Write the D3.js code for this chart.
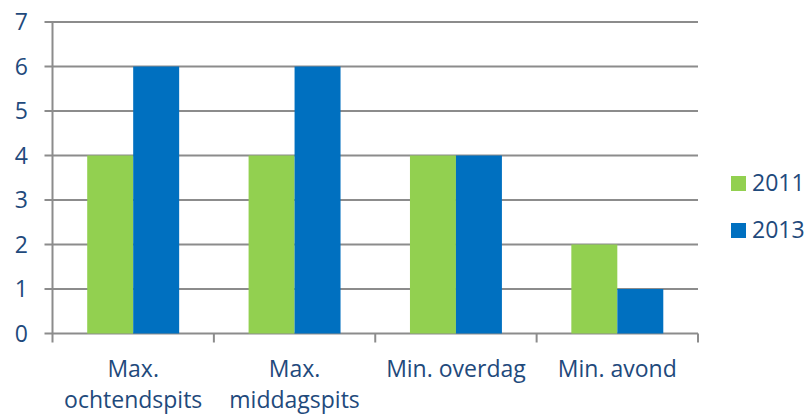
<!DOCTYPE html>
<html>
<head>
<meta charset="utf-8">
<script src="https://cdn.jsdelivr.net/npm/d3@7"></script>
<style>
  html, body { margin: 0; padding: 0; background: #fff; }
  svg text { font-family: "Open Sans", "DejaVu Sans", sans-serif; }
</style>
</head>
<body>
<svg id="chart" width="810" height="414"></svg>
<script>
// Category labels (split over lines), series and their values
const categories = [
  ["Max.", "ochtendspits"],
  ["Max.", "middagspits"],
  ["Min. overdag"],
  ["Min. avond"]
];
const seriesNames = ["2011", "2013"];
const values2011 = [4, 4, 4, 2];
const values2013 = [6, 6, 4, 1];
const yTicks = [0, 1, 2, 3, 4, 5, 6, 7];
const colors = ["#92D050", "#0070C0"];

const textColor = "#1F4A7C";
const gridColor = "#8C8C8C";
const fontSize = 23;

const svg = d3.select("#chart");
const plot = { left: 52.5, right: 698, top: 22, bottom: 333.5 };

const catKeys = categories.map((c, i) => i);
const x0 = d3.scaleBand().domain(catKeys).range([plot.left, plot.right]).padding(0);
const x1 = d3.scaleBand().domain(seriesNames).range([0, x0.bandwidth()])
  .paddingInner(0).paddingOuter(0.755);
const y = d3.scaleLinear().domain([0, 7]).range([plot.bottom, plot.top]);

// horizontal gridlines with left tick stubs
svg.append("g").selectAll("line").data(yTicks).join("line")
  .attr("x1", plot.left - 8).attr("x2", plot.right)
  .attr("y1", d => y(d)).attr("y2", d => y(d))
  .attr("stroke", gridColor).attr("stroke-width", 2);

// y-axis line
svg.append("line")
  .attr("x1", plot.left).attr("x2", plot.left)
  .attr("y1", plot.top).attr("y2", plot.bottom + 9)
  .attr("stroke", gridColor).attr("stroke-width", 2);

// category boundary ticks
const bounds = catKeys.map(i => x0(i) + x0.bandwidth());
svg.append("g").selectAll("line").data(bounds).join("line")
  .attr("x1", d => d).attr("x2", d => d)
  .attr("y1", plot.bottom).attr("y2", plot.bottom + 9)
  .attr("stroke", gridColor).attr("stroke-width", 2);

// y tick labels
svg.append("g").selectAll("text").data(yTicks).join("text")
  .attr("x", 28).attr("y", d => y(d) + 8)
  .attr("text-anchor", "end")
  .attr("font-size", fontSize).attr("fill", textColor)
  .text(d => d);

// bars
const seriesValues = [values2011, values2013];
seriesNames.forEach((name, si) => {
  svg.append("g").selectAll("rect").data(seriesValues[si]).join("rect")
    .attr("x", (d, i) => x0(i) + x1(name))
    .attr("y", d => y(d))
    .attr("width", x1.bandwidth())
    .attr("height", d => y(0) - y(d))
    .attr("fill", colors[si]);
});

// category labels
const catLabels = svg.append("g").selectAll("text").data(categories).join("text")
  .attr("text-anchor", "middle")
  .attr("font-size", fontSize).attr("fill", textColor)
  .attr("x", (d, i) => x0(i) + x0.bandwidth() / 2)
  .attr("y", 377);
catLabels.each(function (lines, i) {
  d3.select(this).selectAll("tspan").data(lines).join("tspan")
    .attr("x", x0(i) + x0.bandwidth() / 2)
    .attr("dy", (d, j) => j === 0 ? 0 : 31)
    .text(d => d);
});

// legend
const legend = svg.append("g").selectAll("g").data(seriesNames).join("g")
  .attr("transform", (d, i) => `translate(731, ${176 + i * 47})`);
legend.append("rect")
  .attr("width", 15).attr("height", 15)
  .attr("fill", (d, i) => colors[i]);
legend.append("text")
  .attr("x", 21).attr("y", 15)
  .attr("font-size", fontSize).attr("fill", textColor)
  .text(d => d);
</script>
</body>
</html>
